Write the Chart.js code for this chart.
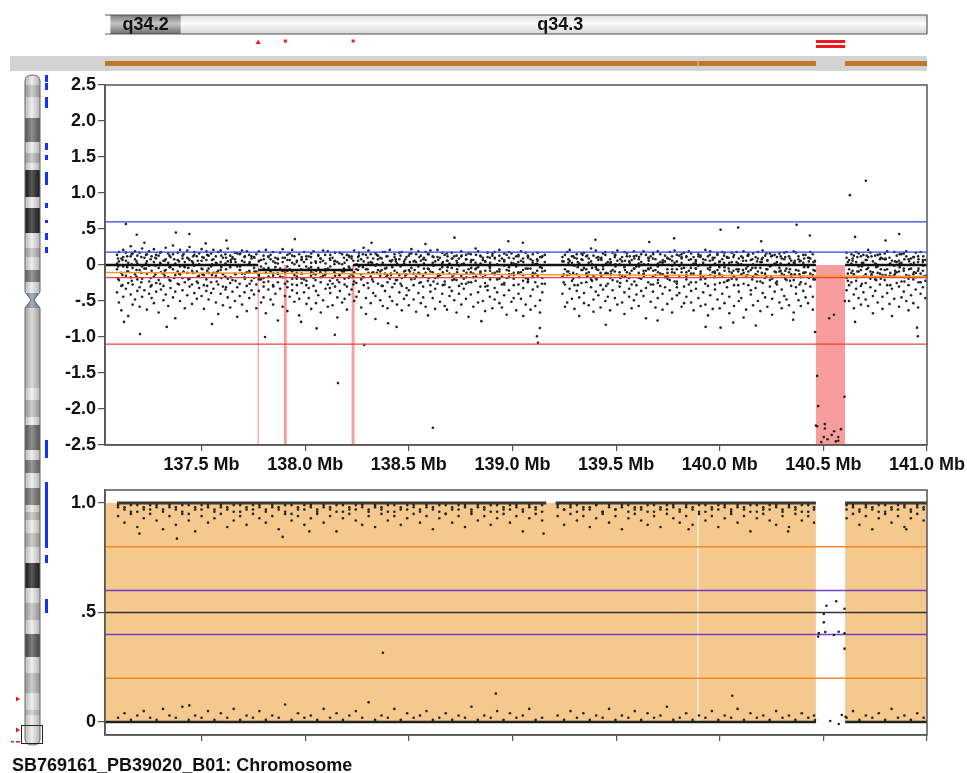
<!DOCTYPE html>
<html lang="en">
<head>
  <meta charset="UTF-8">
  <title>SB769161_PB39020_B01: Chromosome</title>
  <style>
    body {
      margin: 0;
      background: #fff;
      font-family: "Liberation Sans", Arial, sans-serif;
    }
    #wrap { position: relative; width: 967px; height: 773px; overflow: hidden; }
    #wrap canvas { position: absolute; }
    #logrChart { left: 0; top: 0; }
    #bafChart { left: 0; top: 480px; }
    #ideogram { left: 0; top: 0; }
    #caption {
      position: absolute;
      left: 12px;
      top: 755px;
      font-size: 18px;
      font-weight: bold;
      color: #111;
      white-space: nowrap;
    }
  </style>
</head>
<body>
  <div id="wrap">
    <canvas id="logrChart" width="967" height="480"></canvas>
    <canvas id="bafChart" width="967" height="265"></canvas>
    <canvas id="ideogram" width="60" height="773"></canvas>
    <div id="caption">SB769161_PB39020_B01: Chromosome</div>
  </div>

  <script src="https://cdn.jsdelivr.net/npm/chart.js"></script>
  <script>
    // ---- axis ranges and ticks (Mb) ----
    const X_MIN = 137.034;
    const X_MAX = 141.0;
    const xTicks = [137.5, 138.0, 138.5, 139.0, 139.5, 140.0, 140.5, 141.0];
    const logrTicks = [2.5, 2.0, 1.5, 1.0, 0.5, 0, -0.5, -1.0, -1.5, -2.0, -2.5];
    const bafTicks = [1.0, 0.5, 0];

    // ---- cytobands shown in the top track ----
    const cytobands = [
      { name: "q34.2", start: 137.06, end: 137.40, dark: true },
      { name: "q34.3", start: 137.40, end: 141.06, dark: false }
    ];

    // ---- called losses (Mb start, end) ----
    const lossCalls = [[137.770, 137.776], [137.897, 137.911], [138.224, 138.238], [140.464, 140.605]];
    // probe coverage track (break at 139.893)
    const coverage = [[137.034, 139.893], [139.893, 140.464], [140.605, 141.0]];

    // ---- log R ratio: [position, value, value, ...] ----
    const logrSeg1 = [
      [137.092,.14,-.06,-.38,.02],[137.101,.05,-.21,.18,-.52],[137.113,-.11,.09,-.29,-.63],[137.122,.21,-.02,-.44,.11],
      [137.135,-.15,.06,-.33,.17],[137.146,.03,-.25,-.09,-.71],[137.158,.12,-.41,-.17,.26],[137.167,-.04,.16,-.27,-.55],
      [137.179,.08,-.13,-.48,.19],[137.190,-.20,.02,.13,-.36],[137.201,.17,-.07,-.31,-.58],[137.213,-.02,.23,-.19,-.44],
      [137.224,.10,-.35,-.05,.31],[137.236,-.12,.05,-.62,.15],[137.247,.19,-.23,-.01,-.40],[137.259,-.08,.12,-.46,-.28],
      [137.270,.04,-.16,.22,-.53],[137.281,-.25,.09,-.37,.14],[137.293,.13,-.04,-.21,-.66],[137.304,-.10,.18,-.34,.01],
      [137.316,.06,-.29,-.12,-.49],[137.327,.24,-.07,-.41,.08],[137.339,-.17,.03,-.57,.16],[137.350,.11,-.22,-.03,-.32],
      [137.362,-.06,.15,-.45,.27],[137.373,.02,-.37,-.14,-.74],[137.385,.17,-.09,-.26,.07],[137.396,-.13,.21,-.50,-.02],
      [137.408,.09,-.18,-.35,.13],[137.419,-.03,.04,-.60,-.24],[137.431,.20,-.11,-.42,.10],[137.442,-.19,.07,-.30,.25],
      [137.454,.05,-.27,-.08,-.54],[137.465,.14,-.01,-.39,.18],[137.477,-.09,.12,-.23,-.47],[137.488,.01,-.32,.16,-.15],
      [137.500,.22,-.05,-.43,.06],[137.511,-.14,.10,-.28,-.61],[137.523,.07,-.20,.19,-.36],[137.534,-.05,.13,-.48,-.11],
      [137.546,.16,-.24,-.02,-.39],[137.557,-.11,.08,-.33,.21],[137.569,.03,-.15,-.52,.12],[137.580,.18,-.08,-.27,-.68],
      [137.592,-.07,.20,-.40,.04],[137.603,.10,-.30,-.13,-.56],[137.615,-.16,.02,.15,-.34],[137.626,.05,-.19,-.45,.23],
      [137.638,.13,-.03,-.25,-.59],[137.649,-.21,.11,-.37,.09],[137.661,.08,-.12,-.50,.17],[137.672,-.02,.16,-.31,-.72],
      [137.684,.15,-.26,-.07,-.43],[137.695,-.12,.06,-.55,.20],[137.707,.04,-.17,.11,-.38],[137.718,.19,-.10,-.29,-.64],
      [137.730,-.08,.14,-.46,.02],[137.741,.09,-.22,-.35,.12]
    ];
    const logrSeg2 = [
      [137.753,-.04,.11,-.41,-.18],[137.764,.15,-.27,-.09,-.60],[137.776,-.13,.05,-.36,.19],[137.787,.07,-.20,-.52,-.02],
      [137.799,-.18,.13,-.30,-.45],[137.810,.02,-.11,.21,-.67],[137.822,.12,-.34,-.06,-.23],[137.833,-.09,.08,-.48,.14],
      [137.845,.18,-.15,-.28,-.55],[137.856,-.03,.03,-.40,.10],[137.868,.09,-.24,-.12,-.77],[137.879,-.16,.17,-.33,-.05],
      [137.891,.04,-.08,-.58,.22],[137.902,-.11,.10,-.26,-.43],[137.914,.14,-.31,-.02,-.64],[137.925,-.06,.07,-.44,.16],
      [137.937,.21,-.19,-.35,-.09],[137.948,-.14,.01,.12,-.51],[137.960,.06,-.28,-.16,-.39],[137.971,-.01,.15,-.47,-.70],
      [137.983,.11,-.12,-.25,.08],[137.994,-.20,.04,-.38,.18],[138.006,.08,-.22,-.54,-.07],[138.017,-.05,.12,-.32,-.46],
      [138.029,.16,-.10,-.61,.03],[138.040,-.12,.19,-.29,-.18],[138.052,.03,-.36,-.08,-.53],[138.063,.13,-.04,-.42,.14],
      [138.075,-.17,.09,-.24,-.66],[138.086,.06,-.15,-.49,.20],[138.098,-.08,.02,-.33,-.12],[138.109,.19,-.27,-.05,-.58],
      [138.121,-.02,.14,-.39,.07],[138.132,.10,-.18,-.56,-.26],[138.144,-.15,.06,-.30,.17],[138.155,.04,-.21,-.45,-.73],
      [138.167,-.07,.17,-.14,-.36],[138.178,.15,-.09,-.52,.01],[138.190,-.19,.03,-.27,-.47],[138.201,.07,-.30,.14,-.62],
      [138.213,-.04,.11,-.41,-.16],[138.224,.12,-.13,-.34,.09],[138.236,-.10,.20,-.50,-.23],[138.247,.01,-.25,-.06,-.44],
      [138.259,.17,-.02,-.37,.13],[138.270,-.13,.08,-.59,-.20],[138.282,.05,-.17,-.28,.24],[138.293,-.06,.14,-.46,-.68],
      [138.305,.20,-.11,-.32,.03],[138.316,-.16,.04,-.53,.15],[138.328,.09,-.23,-.10,-.39],[138.339,-.01,.16,-.43,-.75],
      [138.351,.13,-.07,-.26,.08],[138.362,-.09,.10,-.49,-.15],[138.374,.03,-.29,.18,-.57],[138.385,.18,-.05,-.36,-.12],
      [138.397,-.14,.12,-.24,-.60],[138.408,.06,-.19,-.44,.21],[138.420,-.03,.07,-.31,-.50],[138.431,.15,-.26,-.08,.11],
      [138.443,-.11,.02,-.55,-.21],[138.454,.08,-.14,-.38,.17],[138.466,-.18,.18,-.29,-.63],[138.477,.02,-.09,-.47,.05],
      [138.489,.11,-.32,-.13,-.42]
    ];
    const logrSeg3 = [
      [138.500,-.07,.13,-.35,-.56],[138.512,.16,-.20,-.04,.22],[138.523,-.12,.05,-.48,-.28],[138.535,.04,-.16,.15,-.65],
      [138.546,-.02,.19,-.39,-.11],[138.558,.13,-.24,-.53,.06],[138.569,-.15,.08,-.30,-.45],[138.581,.07,-.11,-.58,.18],
      [138.592,-.05,.15,-.22,-.70],[138.604,.20,-.28,-.09,-.37],[138.615,-.10,.03,-.46,.12],[138.627,.05,-.18,-.33,-.61],
      [138.638,-.17,.11,.21,-.26],[138.650,.10,-.06,-.51,-.14],[138.661,-.03,.17,-.40,.02],[138.673,.14,-.23,-.27,-.57],
      [138.684,-.08,.06,-.62,.16],[138.696,.02,-.31,-.12,-.43],[138.707,.17,-.04,-.36,.09],[138.719,-.13,.12,-.49,-.20],
      [138.730,.06,-.21,.13,-.66],[138.742,-.01,.09,-.29,-.40],[138.753,.12,-.15,-.55,.19],[138.765,-.19,.02,-.33,-.08],
      [138.776,.08,-.26,-.47,.14],[138.788,-.06,.16,-.24,-.72],[138.799,.15,-.10,-.41,.04],[138.811,-.12,.07,-.58,-.17],
      [138.822,.03,-.22,-.06,.23],[138.834,.19,-.03,-.38,-.52],[138.845,-.09,.13,-.30,-.11],[138.857,.07,-.17,-.50,.10],
      [138.868,-.14,.05,-.25,-.64],[138.880,.11,-.29,.17,-.35],[138.891,-.04,.10,-.44,-.02],[138.903,.16,-.12,-.60,.13],
      [138.914,-.11,.18,-.32,-.48],[138.926,.01,-.20,-.09,-.38],[138.937,.13,-.06,-.53,.21],[138.949,-.16,.09,-.27,-.59],
      [138.960,.05,-.25,-.42,.07],[138.972,-.07,.14,-.18,-.69],[138.983,.18,-.08,-.35,-.13],[138.995,-.13,.03,-.51,.16],
      [139.006,.09,-.19,-.28,-.46],[139.018,-.02,.12,-.63,.01],[139.029,.14,-.27,-.10,-.40],[139.041,-.10,.06,-.47,.19],
      [139.052,.04,-.14,-.32,-.71],[139.064,-.18,.17,-.55,-.05],[139.075,.10,-.23,-.20,.12],[139.087,-.05,.08,-.43,-.62],
      [139.098,.15,-.11,-.34,.03],[139.110,-.12,.01,-.57,-.24],[139.121,.06,-.30,-.15,.17],[139.133,-.03,.11,-.49,-.66],
      [139.144,.12,-.18,-.38,-.09],[139.156,-.08,.04,-.26,.14]
    ];
    const logrSeg4 = [
      [139.241,.11,-.16,-.40,.05],[139.253,-.06,.14,-.27,-.58],[139.264,.18,-.09,-.52,-.14],[139.276,-.13,.06,-.33,.21],
      [139.287,.03,-.22,.12,-.47],[139.299,-.01,.10,-.61,-.28],[139.310,.15,-.13,-.36,.09],[139.322,-.17,.02,-.45,-.71],
      [139.333,.08,-.25,-.07,.16],[139.345,-.04,.17,-.39,-.53],[139.356,.12,-.06,-.24,-.12],[139.368,-.10,.09,-.56,.03],
      [139.379,.05,-.20,-.31,.23],[139.391,-.15,.13,-.48,-.65],[139.402,.20,-.03,-.18,-.37],[139.414,-.07,.07,-.42,.11],
      [139.425,.09,-.28,-.11,-.59],[139.437,-.02,.16,-.34,-.06],[139.448,.14,-.12,-.50,.18],[139.460,-.12,.04,-.26,-.44],
      [139.471,.02,-.18,-.63,.08],[139.483,.17,-.07,-.35,-.21],[139.494,-.09,.11,-.46,.14],[139.506,.06,-.23,.20,-.55],
      [139.517,-.14,.01,-.30,-.10],[139.529,.11,-.15,-.52,.05],[139.540,-.03,.18,-.38,-.68],[139.552,.16,-.10,-.22,.12],
      [139.563,-.18,.05,-.44,-.33],[139.575,.07,-.27,-.08,-.60],[139.586,-.05,.12,-.49,.19],[139.598,.13,-.02,-.28,-.41],
      [139.609,-.11,.08,-.57,.02],[139.621,.04,-.19,.15,-.36],[139.632,.19,-.08,-.43,-.13],[139.644,-.08,.14,-.32,-.74],
      [139.655,.01,-.24,-.05,.10],[139.667,.12,-.04,-.51,-.27],[139.678,-.16,.09,-.37,.17],[139.690,.08,-.14,-.59,-.07],
      [139.701,-.02,.19,-.25,-.46],[139.713,.15,-.29,-.12,.04],[139.724,-.13,.03,-.40,-.62],[139.736,.05,-.17,.13,-.31],
      [139.747,-.06,.10,-.54,-.16],[139.759,.18,-.21,-.35,.08],[139.770,-.10,.06,-.47,-.66],[139.782,.03,-.11,-.23,.20],
      [139.793,.14,-.26,-.06,-.42],[139.805,-.15,.13,-.39,-.01],[139.816,.09,-.05,-.58,.15],[139.828,-.04,.17,-.30,-.53],
      [139.839,.11,-.20,-.44,-.10]
    ];
    const logrSeg5 = [
      [139.851,-.08,.07,-.27,.19],[139.862,.16,-.12,-.52,-.36],[139.874,-.12,.02,.11,-.63],[139.885,.05,-.24,-.33,-.05],
      [139.897,-.01,.15,-.46,.12],[139.908,.13,-.09,-.20,-.57],[139.920,-.17,.08,-.38,.03],[139.931,.07,-.18,-.55,.21],
      [139.943,-.05,.12,-.29,-.70],[139.954,.19,-.03,-.42,-.14],[139.966,-.10,.10,-.61,.07],[139.977,.02,-.27,-.11,-.34],
      [139.989,.14,-.07,-.48,.16],[140.000,-.14,.05,-.25,-.60],[140.012,.08,-.15,.18,-.40],[140.023,-.03,.17,-.53,-.08],
      [140.035,.11,-.22,-.31,.10],[140.046,-.09,.03,-.44,-.67],[140.058,.17,-.11,-.19,.04],[140.069,-.16,.14,-.57,-.28],
      [140.081,.04,-.20,-.06,.18],[140.092,-.06,.09,-.37,-.50],[140.104,.12,-.13,-.46,.01],[140.115,-.11,.19,-.26,-.73],
      [140.127,.06,-.05,-.62,-.15],[140.138,.15,-.28,-.09,.13],[140.150,-.07,.07,-.41,-.35],[140.161,.01,-.16,.16,-.56],
      [140.173,-.13,.11,-.32,-.04],[140.184,.18,-.09,-.50,.09],[140.196,-.04,.04,-.23,-.64],[140.207,.10,-.25,-.39,.20],
      [140.219,-.18,.13,-.12,-.45],[140.230,.07,-.06,-.58,.06],[140.242,-.02,.16,-.30,-.21],[140.253,.13,-.19,-.47,-.69],
      [140.265,-.09,.02,.14,-.37],[140.276,.04,-.23,-.27,.11],[140.288,.16,-.04,-.52,-.09],[140.299,-.12,.09,-.34,-.60],
      [140.311,.08,-.14,-.43,.17],[140.322,-.05,.18,-.21,-.48],[140.334,.12,-.10,-.56,.02],[140.345,-.15,.06,-.29,-.13],
      [140.357,.03,-.21,.19,-.66],[140.368,.17,-.07,-.40,-.31],[140.380,-.08,.12,-.49,.08],[140.391,.06,-.17,-.24,-.57],
      [140.403,-.11,.03,-.36,.14],[140.414,.14,-.26,-.10,-.45],[140.426,-.03,.10,-.53,-.02],[140.437,.09,-.12,-.30,.18],
      [140.449,-.14,.15,-.44,-.62],[140.459,.05,-.08,-.20,.06]
    ];
    const logrSeg6 = [
      [140.612,.10,-.18,-.35,.17],[140.624,-.06,.07,-.50,-.28],[140.635,.15,-.11,-.24,.02],[140.647,-.13,.13,-.41,-.60],
      [140.658,.04,-.22,.18,-.33],[140.670,-.02,.16,-.46,-.09],[140.681,.12,-.07,-.29,-.55],[140.693,-.16,.03,-.38,.14],
      [140.704,.07,-.25,-.13,-.48],[140.716,-.04,.11,-.57,.21],[140.727,.17,-.09,-.31,-.19],[140.739,-.10,.05,-.43,-.67],
      [140.750,.02,-.20,.13,-.36],[140.762,.14,-.02,-.52,-.11],[140.773,-.12,.15,-.27,.08],[140.785,.09,-.14,-.44,-.61],
      [140.796,-.07,.08,-.21,.16],[140.808,.19,-.28,-.06,-.39],[140.819,-.15,.01,-.54,.10],[140.831,.06,-.16,-.33,-.71],
      [140.842,-.01,.18,-.47,-.14],[140.854,.13,-.10,-.25,.04],[140.865,-.09,.06,-.58,-.30],[140.877,.03,-.23,.15,-.45],
      [140.888,.16,-.05,-.37,-.08],[140.900,-.14,.12,-.50,.19],[140.911,.08,-.19,-.28,-.63],[140.923,-.05,.09,-.42,.01],
      [140.934,.11,-.13,-.20,-.53],[140.946,-.11,.17,-.34,-.17],[140.957,.04,-.08,-.59,.12],[140.969,.18,-.24,-.12,-.40],
      [140.980,-.08,.04,-.31,.07],[140.992,.07,-.15,-.46,-.22]
    ];
    // denser core of the cloud, between the rows above
    const logrCore1 = [
      [137.097,-.02,.09,-.19],[137.118,.07,-.14,-.28],[137.141,-.09,.12,-.03],[137.163,.01,-.22,.15],[137.186,-.16,.05,-.07],
      [137.209,.11,-.11,-.24],[137.232,-.05,.02,.14],[137.254,.08,-.18,-.30],[137.277,-.13,.10,-.01],[137.300,.03,-.26,.17],
      [137.322,-.08,.06,-.15],[137.345,.13,-.03,-.21],[137.368,-.18,.08,.00],[137.391,.05,-.12,-.27],[137.413,-.01,.15,-.09],
      [137.436,.09,-.20,-.04],[137.459,-.11,.03,.12],[137.482,.06,-.16,-.25],[137.504,-.06,.11,-.13],[137.527,.14,-.08,-.29],
      [137.550,-.14,.01,.07],[137.573,.02,-.23,-.10],[137.595,-.03,.13,-.18],[137.618,.10,-.06,-.31],[137.641,-.17,.07,.04],
      [137.664,.04,-.13,-.22],[137.686,-.07,.16,-.02],[137.709,.12,-.19,-.12],[137.732,-.10,.04,-.26],[137.755,.00,-.09,.10],
      [137.777,-.15,.06,-.20],[137.800,.08,-.24,-.05],[137.823,-.04,.11,-.16],[137.846,.05,-.12,-.30],[137.868,-.12,.02,.08],
      [137.891,.10,-.17,-.08],[137.914,-.08,.07,-.23],[137.937,.03,-.27,.13],[137.959,-.19,.04,-.11],[137.982,.07,-.06,-.19],
      [138.005,-.02,.12,-.28],[138.028,.11,-.15,-.03],[138.050,-.13,.05,-.21],[138.073,.04,-.10,.09],[138.096,-.06,.14,-.14],
      [138.119,.09,-.22,-.32],[138.141,-.10,.01,.05],[138.164,.02,-.14,-.24],[138.187,-.05,.10,-.09],[138.210,.13,-.18,-.02],
      [138.232,-.16,.06,-.27],[138.255,.06,-.07,.11],[138.278,-.03,.15,-.17],[138.301,.10,-.25,-.06],[138.323,-.11,.03,-.20],
      [138.346,.01,-.11,.14],[138.369,-.07,.09,-.29],[138.392,.12,-.16,-.04],[138.414,-.14,.05,-.12],[138.437,.05,-.21,.08],
      [138.460,-.02,.13,-.26],[138.483,.08,-.08,-.15]
    ];
    const logrCore2 = [
      [138.505,-.09,.04,.16],[138.528,.06,-.19,-.07],[138.551,-.12,.11,-.25],[138.573,.02,-.05,.10],[138.596,-.06,.15,-.18],
      [138.619,.11,-.23,-.01],[138.642,-.15,.07,-.13],[138.664,.04,-.10,-.28],[138.687,-.03,.12,.06],[138.710,.09,-.16,-.21],
      [138.733,-.10,.03,-.06],[138.755,.01,-.26,.13],[138.778,-.17,.08,-.11],[138.801,.07,-.04,-.24],[138.824,-.05,.14,-.16],
      [138.846,.12,-.13,.02],[138.869,-.08,.05,-.30],[138.892,.03,-.20,-.08],[138.915,-.13,.10,.09],[138.937,.06,-.09,-.19],
      [138.960,-.01,.16,-.27],[138.983,.10,-.17,-.03],[139.006,-.11,.02,-.14],[139.028,.04,-.12,.12],[139.051,-.07,.09,-.22],
      [139.074,.13,-.24,-.05],[139.097,-.14,.06,-.17],[139.119,.02,-.08,.08],[139.142,-.04,.11,-.26]
    ];
    const logrCore3 = [
      [139.247,.05,-.13,-.24],[139.270,-.09,.08,.03],[139.293,.12,-.19,-.11],[139.315,-.03,.04,-.28],[139.338,.07,-.07,.14],
      [139.361,-.14,.13,-.16],[139.384,.01,-.22,-.04],[139.406,-.06,.10,-.20],[139.429,.10,-.15,.07],[139.452,-.11,.02,-.29],
      [139.475,.04,-.09,-.13],[139.497,-.02,.14,.01],[139.520,.08,-.25,-.18],[139.543,-.16,.06,-.07],[139.566,.03,-.12,.12],
      [139.588,-.05,.09,-.23],[139.611,.11,-.18,-.02],[139.634,-.12,.01,-.15],[139.657,.06,-.06,.09],[139.679,-.08,.15,-.27],
      [139.702,.02,-.21,-.10],[139.725,-.13,.07,.04],[139.748,.09,-.11,-.19],[139.770,-.01,.12,-.06],[139.793,.05,-.23,-.31],
      [139.816,-.10,.03,.11],[139.839,.12,-.14,-.16],[139.861,-.04,.08,-.24],[139.884,.07,-.05,.02],[139.907,-.15,.11,-.12],
      [139.930,.00,-.19,-.26],[139.952,-.07,.14,.06],[139.975,.10,-.09,-.17],[139.998,-.12,.04,-.03],[140.021,.03,-.24,.13],
      [140.043,-.05,.10,-.21],[140.066,.11,-.15,-.08],[140.089,-.09,.02,-.28],[140.112,.06,-.07,.10],[140.134,-.02,.13,-.14],
      [140.157,.08,-.20,-.04],[140.180,-.14,.05,-.23],[140.203,.04,-.11,.08],[140.225,-.06,.16,-.16],[140.248,.12,-.17,-.01],
      [140.271,-.10,.01,-.25],[140.294,.02,-.08,.12],[140.316,-.08,.11,-.19],[140.339,.09,-.22,-.06],[140.362,-.13,.06,.03],
      [140.385,.05,-.13,-.27],[140.407,-.03,.09,-.11],[140.430,.10,-.18,.05],[140.452,-.07,.04,-.20]
    ];
    const logrCore4 = [
      [140.618,.04,-.12,-.22],[140.641,-.08,.09,.06],[140.664,.11,-.17,-.09],[140.686,-.02,.03,-.26],[140.709,.07,-.06,.13],
      [140.732,-.13,.12,-.15],[140.755,.01,-.21,-.03],[140.777,-.06,.10,-.19],[140.800,.09,-.14,.08],[140.823,-.11,.02,-.28],
      [140.846,.05,-.08,-.12],[140.868,-.03,.15,.02],[140.891,.08,-.23,-.17],[140.914,-.15,.05,-.06],[140.937,.03,-.10,.11],
      [140.959,-.05,.08,-.24],[140.982,.12,-.16,-.01]
    ];
    // isolated probes: [position, value]
    const logrOutliers = [
      [137.135,.57],[137.187,.42],[137.376,.45],[137.441,.43],[137.52,.30],[137.62,.34],[137.95,.36],[138.32,.31],
      [138.58,.29],[138.72,.38],[138.98,.33],[139.05,.31],[139.40,.35],[139.66,.32],[139.78,.37],[140.20,.33],
      [140.004,.49],[140.089,.52],[140.371,.56],[140.435,.41],[140.628,.97],[140.705,1.17],[140.653,.39],[140.80,.34],
      [140.866,.43],[137.126,-.79],[137.203,-.96],[137.332,-.86],[137.55,-.82],[137.806,-1.0],[137.98,-.79],
      [138.055,-.88],[138.143,-.97],[138.158,-1.64],[138.285,-1.11],[138.40,-.81],[138.441,-.86],[138.616,-2.26],
      [138.85,-.78],[139.118,-.99],[139.123,-1.08],[139.132,-.875],[139.45,-.83],[139.70,-.77],[139.932,-.86],
      [140.004,-.87],[140.065,-.80],[140.174,-.84],[140.354,-.76],[140.653,-.79],[140.952,-.87],[140.956,-.99]
    ];
    const logrDeletion = [
      [140.460,-.93],[140.470,-1.54],[140.475,-1.96],[140.464,-2.23],[140.470,-2.24],[140.490,-2.46],[140.507,-2.21],
      [140.507,-2.27],[140.502,-2.39],[140.520,-2.42],[140.528,-.74],[140.540,-2.36],[140.551,-.69],[140.552,-2.31],
      [140.560,-2.45],[140.572,-2.39],[140.572,-2.44],[140.585,-2.28],[140.602,-1.83],[140.604,-.50]
    ];
    // segment means: [start, end, value]
    const segMeans = [[137.034, 137.773, 0], [137.773, 138.230, -0.07], [138.230, 140.464, 0], [140.605, 141.0, 0]];

    // ---- B allele frequency: [position, value, value, ...] ----
    const bafRows = [
      [137.097,.98,.94,.99,.02],[137.128,.97,.91,.98,.04],[137.159,.99,.95,.96,.01],[137.190,.96,.89,.99,.03],
      [137.221,.98,.93,.97,.05],[137.252,.97,.95,.99,.02],[137.283,.99,.92,.98,.01],[137.314,.96,.88,.97,.06],
      [137.345,.98,.94,.99,.03],[137.376,.97,.90,.98,.02],[137.407,.99,.95,.96,.07],[137.438,.95,.92,.99,.01],
      [137.469,.98,.87,.97,.03],[137.500,.97,.94,.99,.02],[137.531,.99,.91,.98,.05],[137.562,.96,.93,.97,.01],
      [137.593,.98,.95,.99,.04],[137.624,.97,.89,.98,.02],[137.655,.99,.92,.96,.06],[137.686,.96,.94,.99,.01],
      [137.717,.98,.90,.97,.03],[137.748,.97,.95,.99,.02],[137.779,.99,.93,.98,.05],[137.810,.96,.91,.97,.01],
      [137.841,.98,.94,.99,.03],[137.872,.97,.88,.98,.02],[137.903,.99,.95,.96,.08],[137.934,.95,.92,.99,.01],
      [137.965,.98,.94,.97,.04],[137.996,.97,.90,.99,.02],[138.027,.99,.93,.98,.03],[138.058,.96,.95,.97,.01],
      [138.089,.98,.91,.99,.06],[138.120,.97,.94,.98,.02],[138.151,.99,.87,.96,.04],[138.182,.96,.93,.99,.01],
      [138.213,.98,.95,.97,.03],[138.244,.97,.92,.99,.05],[138.275,.99,.90,.98,.02],[138.306,.96,.94,.97,.09],
      [138.337,.98,.89,.99,.01],[138.368,.97,.95,.98,.03],[138.399,.99,.92,.96,.02],[138.430,.96,.94,.99,.06],
      [138.461,.98,.90,.97,.01],[138.492,.97,.93,.99,.04],[138.523,.99,.95,.98,.02],[138.554,.96,.91,.97,.03],
      [138.585,.98,.94,.99,.05],[138.616,.97,.88,.98,.01],[138.647,.99,.93,.96,.02],[138.678,.95,.95,.99,.04],
      [138.709,.98,.91,.97,.01],[138.740,.97,.94,.99,.03],[138.771,.99,.89,.98,.02],[138.802,.96,.95,.97,.07],
      [138.833,.98,.92,.99,.01],[138.864,.97,.94,.98,.03],[138.895,.99,.90,.96,.02],[138.926,.96,.93,.99,.05],
      [138.957,.98,.95,.97,.01],[138.988,.97,.91,.99,.04],[139.019,.99,.94,.98,.02],[139.050,.96,.87,.97,.03],
      [139.081,.98,.93,.99,.06],[139.112,.97,.95,.98,.01],[139.143,.99,.92,.96,.02],[139.218,.98,.94,.99,.03],
      [139.249,.97,.90,.97,.01],[139.280,.99,.95,.98,.05],[139.311,.96,.92,.99,.02],[139.342,.98,.94,.97,.04],
      [139.373,.97,.89,.98,.01],[139.404,.99,.93,.99,.03],[139.435,.96,.95,.96,.02],[139.466,.98,.91,.99,.06],
      [139.497,.97,.94,.97,.01],[139.528,.99,.88,.98,.03],[139.559,.96,.93,.99,.02],[139.590,.98,.95,.97,.05],
      [139.621,.97,.92,.98,.01],[139.652,.99,.90,.96,.04],[139.683,.96,.94,.99,.02],[139.714,.98,.89,.97,.03],
      [139.745,.97,.95,.99,.07],[139.776,.99,.93,.98,.01],[139.807,.96,.91,.97,.02],[139.838,.98,.94,.99,.04],
      [139.869,.97,.90,.98,.01],[139.900,.99,.95,.96,.03],[139.931,.96,.92,.99,.02],[139.962,.98,.94,.97,.05],
      [139.993,.97,.89,.99,.01],[140.024,.99,.93,.98,.03],[140.055,.96,.95,.97,.02],[140.086,.98,.91,.99,.06],
      [140.117,.97,.94,.98,.01],[140.148,.99,.87,.96,.04],[140.179,.96,.93,.99,.02],[140.210,.98,.95,.97,.03],
      [140.241,.97,.92,.99,.01],[140.272,.99,.90,.98,.05],[140.303,.96,.94,.97,.02],[140.334,.98,.89,.99,.03],
      [140.365,.97,.95,.98,.01],[140.396,.99,.92,.96,.04],[140.427,.96,.94,.99,.02],[140.455,.98,.91,.97,.03],
      [140.612,.97,.93,.99,.02],[140.643,.99,.95,.98,.05],[140.674,.96,.90,.97,.01],[140.705,.98,.94,.99,.03],
      [140.736,.97,.88,.98,.02],[140.767,.99,.93,.96,.04],[140.798,.96,.95,.99,.01],[140.829,.98,.91,.97,.06],
      [140.860,.97,.94,.99,.02],[140.891,.99,.89,.98,.03],[140.922,.96,.93,.97,.01],[140.953,.98,.95,.99,.04],
      [140.984,.97,.92,.98,.02]
    ];
    const bafOutliers = [
      [137.381,.837],[137.891,.845],[138.375,.316],[137.441,.076],[137.20,.86],[138.02,.87],[139.15,.86],
      [139.85,.88],[140.33,.87],[140.06,.12],[138.92,.13],[140.90,.88]
    ];
    const bafDeletion = [
      [140.515,.531],[140.562,.551],[140.602,.517],[140.502,.493],[140.502,.455],[140.478,.406],[140.509,.411],
      [140.475,.39],[140.551,.397],[140.574,.412],[140.602,.405],[140.602,.335],[140.533,.005],[140.574,-.009],
      [140.589,.032],[140.607,.024],[140.460,.009]
    ];
    // homozygous bands (many overlapping probes at 1 and 0)
    const bafHomTop = [[137.092, 139.163], [139.208, 140.464], [140.605, 141.0]];
    const bafHomBottom = [[137.034, 140.464], [140.605, 141.0]];

    // ---- style ----
    const FONT = '"Liberation Sans", Arial, Helvetica, sans-serif';
    const AXIS = "#555";
    Chart.defaults.font.family = FONT;

    function rowsToPoints(rows) {
      const pts = [];
      rows.forEach(r => { for (let i = 1; i < r.length; i++) pts.push({ x: r[0], y: r[i] }); });
      return pts;
    }
    function pairsToPoints(pairs) {
      return pairs.map(p => ({ x: p[0], y: p[1] }));
    }
    function fmt(v) {
      if (v === 0) return "0";
      let s = Math.abs(v).toFixed(1);
      if (Math.abs(v) < 1) s = s.slice(1);
      return (v < 0 ? "-" : "") + s;
    }
    function line(points, color, width) {
      return { data: points, showLine: true, pointRadius: 0, borderColor: color, borderWidth: width, order: 1 };
    }
    function hline(y, x0, x1, color, width) {
      return line([{ x: x0, y: y }, { x: x1, y: y }], color, width);
    }
    function dots(points) {
      return { data: points, pointRadius: 1.3, pointBorderWidth: 0, pointBackgroundColor: "#222", order: 2 };
    }
    function yScale(min, max, ticks) {
      return {
        type: "linear", min: min, max: max,
        afterBuildTicks: s => { s.ticks = ticks.map(v => ({ value: v })); },
        afterFit: s => { s.width = 105; s.paddingTop = 0; s.paddingBottom = 0; },
        grid: { drawOnChartArea: false, tickLength: 7, color: AXIS, lineWidth: 1.2 },
        border: { color: AXIS, width: 1.5 },
        ticks: { font: { size: 18, weight: "bold" }, color: "#111", padding: 2, callback: v => fmt(v) }
      };
    }
    function xScale(height, showLabels) {
      return {
        type: "linear", min: X_MIN, max: X_MAX,
        afterBuildTicks: s => { s.ticks = xTicks.map(v => ({ value: v })); },
        afterFit: s => { s.height = height; s.paddingLeft = 0; s.paddingRight = 0; },
        grid: { drawOnChartArea: false, tickLength: 6, color: AXIS, lineWidth: 1.2 },
        border: { color: AXIS, width: 1.5 },
        ticks: {
          display: showLabels, autoSkip: false, maxRotation: 0, padding: 3,
          font: { size: 18, weight: "bold" }, color: "#111",
          callback: v => v.toFixed(1) + " Mb"
        }
      };
    }

    // ---- upper panel: log R ratio, plus the top tracks ----
    const logrDecor = {
      id: "logrDecor",
      beforeDatasetsDraw(chart) {
        const { ctx, scales: { x, y } } = chart;
        ctx.save();
        ctx.fillStyle = "rgba(240,60,60,0.5)";
        lossCalls.forEach(([s, e]) => {
          const x0 = x.getPixelForValue(s), x1 = x.getPixelForValue(e);
          const y0 = y.getPixelForValue(0), y1 = y.getPixelForValue(-2.5);
          ctx.fillRect(x0, y0, Math.max(1, x1 - x0), y1 - y0);
        });
        ctx.restore();
      },
      afterDraw(chart) {
        const { ctx, chartArea: a, scales: { x } } = chart;
        ctx.save();
        // plot frame
        ctx.strokeStyle = AXIS;
        ctx.lineWidth = 1.5;
        ctx.strokeRect(a.left, a.top, a.width, a.height);

        // cytoband track
        const bt = 15, bh = 19;
        cytobands.forEach(b => {
          const x0 = Math.max(a.left, x.getPixelForValue(b.start));
          const x1 = Math.min(a.right, x.getPixelForValue(b.end));
          const g = ctx.createLinearGradient(0, bt, 0, bt + bh);
          if (b.dark) {
            g.addColorStop(0, "#7c7c7c"); g.addColorStop(0.45, "#c4c4c4"); g.addColorStop(1, "#6e6e6e");
          } else {
            g.addColorStop(0, "#dedede"); g.addColorStop(0.45, "#fbfbfb"); g.addColorStop(1, "#d6d6d6");
          }
          ctx.fillStyle = g;
          ctx.fillRect(x0, bt, x1 - x0, bh);
          ctx.fillStyle = "#111";
          ctx.font = "bold 18px " + FONT;
          ctx.textAlign = "center";
          ctx.textBaseline = "middle";
          ctx.fillText(b.name, x.getPixelForValue((b.start + b.end) / 2), bt + bh / 2 + 1);
        });
        ctx.strokeStyle = "#555";
        ctx.lineWidth = 1.2;
        ctx.beginPath();
        ctx.moveTo(a.left, bt); ctx.lineTo(a.right, bt); ctx.lineTo(a.right, bt + bh);
        ctx.moveTo(a.left, bt + bh); ctx.lineTo(a.right, bt + bh);
        ctx.stroke();

        // loss call markers
        ctx.fillStyle = "#f01818";
        lossCalls.forEach(([s, e]) => {
          const x0 = x.getPixelForValue(s), x1 = x.getPixelForValue(e);
          const w = x1 - x0, xc = (x0 + x1) / 2;
          if (w >= 10) {
            ctx.fillRect(x0, 40, w, 3);
            ctx.fillRect(x0, 45, w, 3);
          } else if (w >= 2) {
            ctx.fillRect(xc - 1.5, 39.5, 3, 3);
          } else {
            ctx.beginPath();
            ctx.moveTo(xc - 2.5, 44); ctx.lineTo(xc + 2.5, 44); ctx.lineTo(xc, 39.5);
            ctx.closePath(); ctx.fill();
          }
        });

        // probe coverage track
        ctx.fillStyle = "#d3d3d3";
        ctx.fillRect(10, 56, a.right - 10, 15);
        ctx.fillStyle = "#c27628";
        coverage.forEach(([s, e], i) => {
          const x0 = x.getPixelForValue(s) + (i > 0 && s === coverage[i - 1][1] ? 1 : 0);
          const x1 = x.getPixelForValue(e);
          ctx.fillRect(x0, 61, x1 - x0, 5);
        });
        ctx.restore();
      }
    };

    const logrPoints = [logrSeg1, logrSeg2, logrSeg3, logrSeg4, logrSeg5, logrSeg6,
      logrCore1, logrCore2, logrCore3, logrCore4].map(rowsToPoints).flat()
      .concat(pairsToPoints(logrOutliers), pairsToPoints(logrDeletion));

    new Chart(document.getElementById("logrChart"), {
      type: "scatter",
      data: {
        datasets: [
          hline(0.6, X_MIN, X_MAX, "#3340e0", 1.2),
          hline(0.18, X_MIN, X_MAX, "#3340e0", 1.2),
          ...segMeans.map(s => hline(s[2], s[0], s[1], "#111", 2.4)),
          line([{ x: X_MIN, y: -0.105 }, { x: X_MAX, y: -0.16 }], "#f29a26", 1.6),
          hline(-0.175, X_MIN, X_MAX, "#ee4040", 1.2),
          hline(-1.1, X_MIN, X_MAX, "#ee4040", 1.2),
          dots(logrPoints)
        ]
      },
      options: {
        responsive: false,
        animation: false,
        devicePixelRatio: 1,
        layout: { padding: { left: 0, right: 40, top: 85, bottom: 0 } },
        plugins: { legend: { display: false }, tooltip: { enabled: false } },
        scales: {
          x: xScale(35, true),
          y: yScale(-2.5, 2.5, logrTicks)
        }
      },
      plugins: [logrDecor]
    });

    // ---- lower panel: B allele frequency ----
    const bafDecor = {
      id: "bafDecor",
      beforeDatasetsDraw(chart) {
        const { ctx, scales: { x, y } } = chart;
        ctx.save();
        ctx.fillStyle = "#f5c98e";
        const y0 = y.getPixelForValue(1), y1 = y.getPixelForValue(0);
        coverage.forEach(([s, e], i) => {
          const x0 = x.getPixelForValue(s) + (i > 0 && s === coverage[i - 1][1] ? 1 : 0);
          const x1 = x.getPixelForValue(e);
          ctx.fillRect(x0, y0, x1 - x0, y1 - y0);
        });
        ctx.restore();
      },
      afterDraw(chart) {
        const { ctx, chartArea: a } = chart;
        ctx.save();
        ctx.strokeStyle = AXIS;
        ctx.lineWidth = 1.5;
        ctx.strokeRect(a.left, a.top, a.width, a.height);
        ctx.restore();
      }
    };

    const bafPoints = rowsToPoints(bafRows).concat(pairsToPoints(bafOutliers), pairsToPoints(bafDeletion));
    const bafDots = dots(bafPoints);
    bafDots.order = 0;

    new Chart(document.getElementById("bafChart"), {
      type: "scatter",
      data: {
        datasets: [
          hline(0.8, X_MIN, X_MAX, "#ef8a2e", 1.5),
          hline(0.6, X_MIN, X_MAX, "#7440c4", 1.5),
          hline(0.5, X_MIN, X_MAX, "#333", 1.3),
          hline(0.4, X_MIN, X_MAX, "#7440c4", 1.5),
          hline(0.2, X_MIN, X_MAX, "#ef8a2e", 1.5),
          ...bafHomTop.map(s => hline(1, s[0], s[1], "#3a3a30", 3)),
          ...bafHomBottom.map(s => hline(0, s[0], s[1], "#222", 2.4)),
          bafDots
        ]
      },
      options: {
        responsive: false,
        animation: false,
        devicePixelRatio: 1,
        layout: { padding: { left: 0, right: 40, top: 10, bottom: 0 } },
        plugins: { legend: { display: false }, tooltip: { enabled: false } },
        scales: {
          x: xScale(10, false),
          y: yScale(-0.059, 1.059, bafTicks)
        }
      },
      plugins: [bafDecor]
    });

    // ---- chromosome ideogram on the left (layout only) ----
    const ideoBands = [
      [75, 85, "#e6e6e6"], [85, 97, "#bdbdbd"], [97, 118, "#e9e9e9"], [118, 142, "#6b6b6b"], [142, 153, "#e9e9e9"],
      [153, 163, "#bdbdbd"], [163, 170, "#e9e9e9"], [170, 197, "#222"], [197, 208, "#e9e9e9"], [208, 233, "#222"],
      [233, 248, "#e9e9e9"], [248, 257, "#bdbdbd"], [257, 270, "#e9e9e9"], [270, 282, "#777"], [282, 293, "#e9e9e9"],
      [293, 308, "#8796a4"], [308, 388, "#cfcfcf"], [388, 400, "#eeeeee"], [400, 417, "#bdbdbd"], [417, 425, "#eeeeee"],
      [425, 450, "#6b6b6b"], [450, 460, "#e9e9e9"], [460, 473, "#777"], [473, 488, "#e9e9e9"], [488, 505, "#777"],
      [505, 512, "#e9e9e9"], [512, 520, "#bdbdbd"], [520, 533, "#e9e9e9"], [533, 547, "#bdbdbd"], [547, 563, "#e9e9e9"],
      [563, 588, "#222"], [588, 603, "#e9e9e9"], [603, 620, "#bdbdbd"], [620, 634, "#e9e9e9"], [634, 657, "#555"],
      [657, 673, "#e9e9e9"], [673, 693, "#bdbdbd"], [693, 710, "#e9e9e9"], [710, 715, "#c8c8c8"], [715, 745, "#e9e9e9"]
    ];
    const ideoBlue = [
      [75, 82], [83, 90], [97, 108], [143, 150], [155, 160], [172, 185], [203, 208], [220, 223], [233, 240], [247, 253],
      [440, 458], [482, 548], [555, 563], [599, 613]
    ];

    (function drawIdeogram() {
      const ctx = document.getElementById("ideogram").getContext("2d");
      const L = 25, R = 40, M = 32.5;
      ctx.beginPath();
      ctx.moveTo(L, 81);
      ctx.quadraticCurveTo(L, 75, M, 75);
      ctx.quadraticCurveTo(R, 75, R, 81);
      ctx.lineTo(R, 292);
      ctx.lineTo(M + 1.5, 300);
      ctx.lineTo(R, 308);
      ctx.lineTo(R, 739);
      ctx.quadraticCurveTo(R, 745, M, 745);
      ctx.quadraticCurveTo(L, 745, L, 739);
      ctx.lineTo(L, 308);
      ctx.lineTo(M - 1.5, 300);
      ctx.lineTo(L, 292);
      ctx.closePath();

      ctx.save();
      ctx.clip();
      ideoBands.forEach(b => { ctx.fillStyle = b[2]; ctx.fillRect(L, b[0], R - L, b[1] - b[0]); });
      const g = ctx.createLinearGradient(L, 0, R, 0);
      g.addColorStop(0, "rgba(0,0,0,0.18)");
      g.addColorStop(0.45, "rgba(255,255,255,0.25)");
      g.addColorStop(1, "rgba(0,0,0,0.22)");
      ctx.fillStyle = g;
      ctx.fillRect(L, 70, R - L, 680);
      ctx.restore();
      ctx.strokeStyle = "#666";
      ctx.lineWidth = 1;
      ctx.stroke();

      // current view box
      ctx.strokeStyle = "#222";
      ctx.strokeRect(21.5, 725.5, 21, 18);

      // blue marks
      ctx.fillStyle = "#1530ff";
      ideoBlue.forEach(b => ctx.fillRect(45, b[0], 3, b[1] - b[0]));

      // red marks
      ctx.fillStyle = "#f01818";
      [[699], [730]].forEach(([yy]) => {
        ctx.beginPath();
        ctx.moveTo(16, yy - 2.5); ctx.lineTo(20, yy); ctx.lineTo(16, yy + 2.5);
        ctx.closePath(); ctx.fill();
      });
      ctx.fillRect(11, 741, 3, 1.5);
      ctx.fillRect(16, 741, 4, 1.5);
    })();
  </script>
</body>
</html>
